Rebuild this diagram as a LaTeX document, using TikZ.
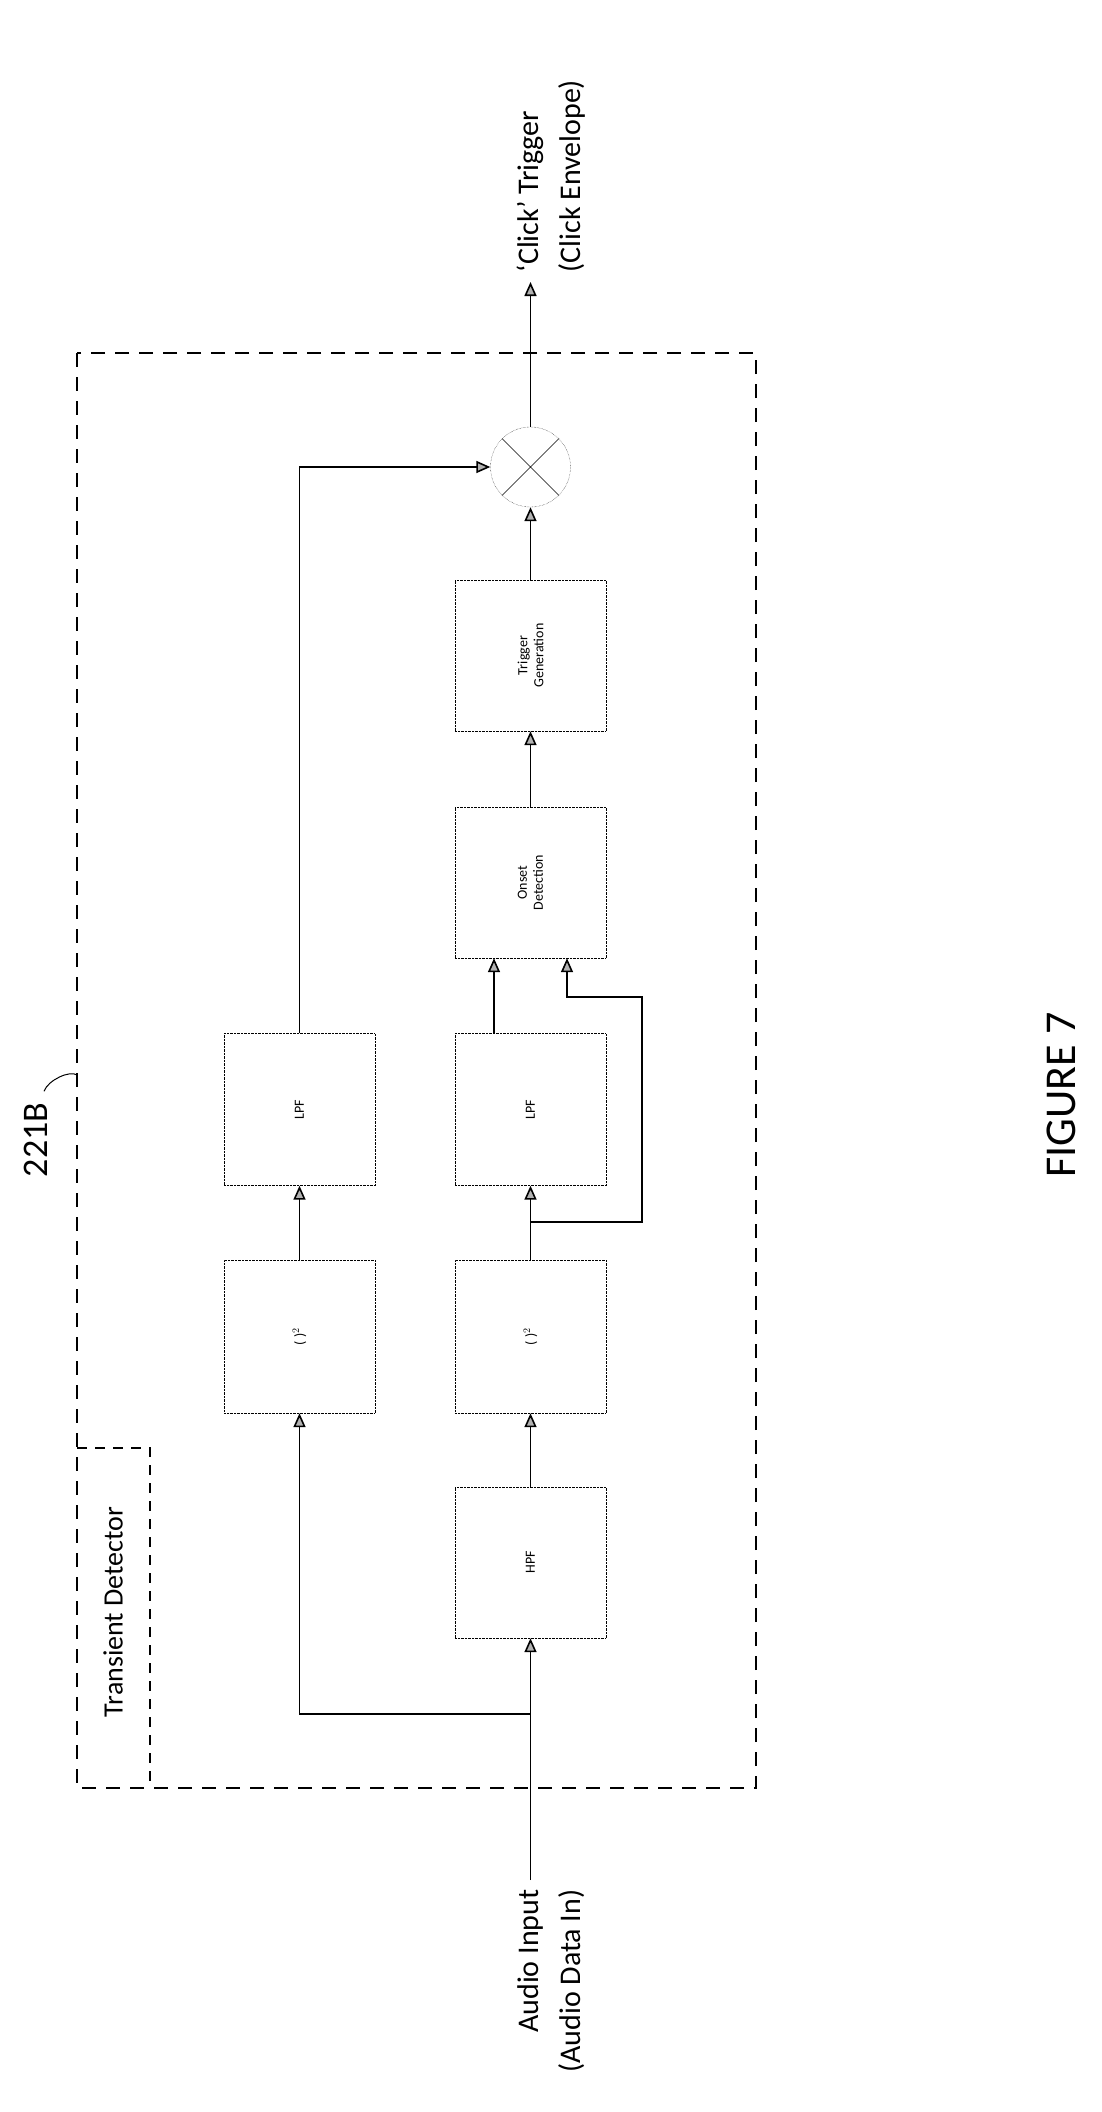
\documentclass[tikz,border=0pt]{standalone}
\usepackage{fontspec}
\setmainfont{Carlito}
\usetikzlibrary{arrows.meta}
\begin{document}
\begin{tikzpicture}[x=1pt,y=-1pt,
  blk/.style={draw,densely dotted,thin,minimum width=151pt,minimum height=155pt,inner sep=0pt},
  lbl/.style={rotate=90,font=\fontsize{14}{16}\selectfont,align=center},
  big/.style={rotate=90,font=\fontsize{30}{34}\selectfont},
  con/.style={line width=1.6pt,-{Triangle[length=14pt,width=12pt,fill=gray!60]}},
  ln/.style={line width=1.6pt}]
\useasboundingbox (0,0) rectangle (1101,2112);
\draw[dashed,line width=1.6pt,dash pattern=on 14pt off 10pt] (77,353) rectangle (756,1788);
\draw[dashed,line width=1.6pt,dash pattern=on 10pt off 8pt] (77,1448) -- (150,1448) -- (150,1788);
\node[big,font=\fontsize{28}{32}\selectfont] (td) at (113,1612) {Transient Detector};
\node[big,font=\fontsize{36}{40}\selectfont] (lab) at (36,1140) {221B};
\coordinate (labend) at (77,1075);
\draw[line width=1pt] (lab.east) ++(8,-8) .. controls (48,1080) and (70,1070) .. (labend);
% blocks
\node[blk,minimum height=152pt] (ulpf) at (299.5,1109.5) {};
\node[lbl] at (ulpf) {LPF};
\node[blk,minimum height=153pt] (usq) at (299.5,1336.5) {};
\node[lbl] at (usq) {( )$^2$};
\node[blk,minimum height=152pt] (llpf) at (530.5,1109.5) {};
\node[lbl] at (llpf) {LPF};
\node[blk,minimum height=153pt] (lsq) at (530.5,1336.5) {};
\node[lbl] at (lsq) {( )$^2$};
\node[blk,minimum height=151pt] (hpf) at (530.5,1562.5) {};
\node[lbl] at (hpf) {HPF};
\node[blk,minimum height=151pt] (ons) at (530.5,882.5) {};
\node[lbl] at (ons) {Onset\\Detection};
\node[blk,minimum height=151pt] (trg) at (530.5,655.5) {};
\node[lbl] at (trg) {Trigger\\Generation};
\node[draw,densely dotted,thin,circle,minimum size=80pt,inner sep=0pt] (mul) at (530.5,467) {};
\draw[thin] (mul.north west) -- (mul.south east) (mul.north east) -- (mul.south west);
% input
\coordinate (in) at (530.5,1880);
\coordinate (split) at (530.5,1714);
\coordinate (out) at (530.5,282);
\draw[ln] (in) -- (split);
\draw[con] (split) -- (hpf.south);
\draw[con] (split) -| (usq.south);
\draw[con] (hpf.north) -- (lsq.south);
\draw[con] (usq.north) -- (ulpf.south);
\draw[con] (lsq.north) -- (llpf.south);
\draw[con] (ulpf.north) |- (mul.west);
\draw[con] (llpf.north -| 494,0) -- (ons.south -| 494,0);
\coordinate (fb) at (530.5,1222);
\draw[con] (fb) -- (642,1222) -- (642,997) -- (567,997) -- (ons.south -| 567,0);
\draw[con] (ons.north) -- (trg.south);
\draw[con] (trg.north) -- (mul.south);
\draw[con] (mul.north) -- (out);
% labels
\node[big,anchor=east] (ai) at (530.5,1886) {Audio Input};
\node[big,anchor=east] (ad) at (572,1886) {(Audio Data In)};
\node[big,anchor=west] (ct) at (530.5,276) {`Click' Trigger};
\node[big,anchor=west] (ce) at (572,276) {(Click Envelope)};
\node[rotate=90,font=\fontsize{44}{50}\selectfont] (fig) at (1061,1095) {FIGURE 7};
\end{tikzpicture}
\end{document}
